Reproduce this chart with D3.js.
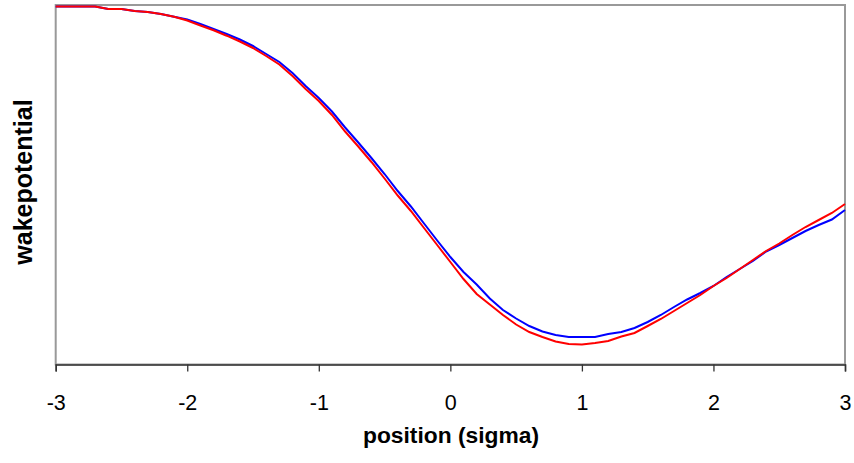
<!DOCTYPE html>
<html>
<head>
<meta charset="utf-8">
<script src="https://cdn.jsdelivr.net/npm/d3@7"></script>
<style>
  html, body { margin: 0; padding: 0; background: #fff; }
  svg { display: block; }
</style>
</head>
<body>
<svg id="chart" width="854" height="463"></svg>
<script>
// position in units of sigma
const positions = [
  -3.0,-2.9,-2.8,-2.7,-2.6,-2.5,-2.4,-2.3,-2.2,-2.1,
  -2.0,-1.9,-1.8,-1.7,-1.6,-1.5,-1.4,-1.3,-1.2,-1.1,
  -1.0,-0.9,-0.8,-0.7,-0.6,-0.5,-0.4,-0.3,-0.2,-0.1,
   0.0, 0.1, 0.2, 0.3, 0.4, 0.5, 0.6, 0.7, 0.8, 0.9,
   1.0, 1.1, 1.2, 1.3, 1.4, 1.5, 1.6, 1.7, 1.8, 1.9,
   2.0, 2.1, 2.2, 2.3, 2.4, 2.5, 2.6, 2.7, 2.8, 2.9, 3.0
];

// wake potential (arbitrary units), blue series
const wakeBlue = [
  -0.15,-0.15,-0.15,-0.15,-0.40,-0.40,-0.60,-0.70,-0.90,-1.17,
  -1.45,-1.90,-2.40,-2.90,-3.45,-4.10,-4.90,-5.70,-6.80,-8.10,
  -9.30,-10.65,-12.25,-13.75,-15.30,-16.90,-18.60,-20.15,-21.85,-23.55,
  -25.20,-26.70,-27.95,-29.35,-30.50,-31.35,-32.10,-32.65,-33.00,-33.20,
  -33.20,-33.20,-32.90,-32.70,-32.30,-31.70,-31.00,-30.20,-29.45,-28.80,
  -28.10,-27.20,-26.40,-25.60,-24.65,-24.00,-23.30,-22.60,-22.00,-21.45,-20.50
];

// wake potential (arbitrary units), red series
const wakeRed = [
  -0.15,-0.15,-0.15,-0.15,-0.40,-0.40,-0.60,-0.70,-0.90,-1.17,
  -1.55,-2.05,-2.53,-3.07,-3.65,-4.30,-5.10,-5.95,-7.10,-8.40,
  -9.60,-11.00,-12.65,-14.15,-15.70,-17.35,-19.05,-20.60,-22.30,-24.00,
  -25.70,-27.40,-28.90,-29.95,-31.00,-31.95,-32.70,-33.20,-33.65,-33.90,
  -33.95,-33.80,-33.60,-33.15,-32.80,-32.10,-31.40,-30.60,-29.80,-29.00,
  -28.10,-27.30,-26.40,-25.50,-24.60,-23.85,-23.00,-22.20,-21.50,-20.80,-19.90
];

const xTicks = [-3, -2, -1, 0, 1, 2, 3];
const xTickLabels = ["-3", "-2", "-1", "0", "1", "2", "3"];
const xTitle = "position (sigma)";
const yTitle = "wakepotential";

(function () {
  const svg = d3.select("#chart");
  const mLeft = 55.7, mRight = 845, mTop = 5, mBottom = 364.5;
  const font = "'Liberation Sans', Arial, sans-serif";

  const x = d3.scaleLinear().domain([-3, 3]).range([mLeft, mRight]);
  const y = d3.scaleLinear().domain([-35.95, 0]).range([mBottom, mTop]);

  // plot frame (gray)
  svg.append("rect")
    .attr("x", mLeft).attr("y", mTop)
    .attr("width", mRight - mLeft).attr("height", mBottom - mTop)
    .attr("fill", "none").attr("stroke", "#999").attr("stroke-width", 2);

  // x axis
  const xAxis = d3.axisBottom(x).tickValues(xTicks)
    .tickFormat((d, i) => xTickLabels[i]).tickSize(7).tickSizeOuter(7);
  const gx = svg.append("g").attr("transform", `translate(0,${mBottom})`).call(xAxis);
  gx.select(".domain").attr("stroke", "#333").attr("stroke-width", 1.5);
  gx.selectAll(".tick line").attr("stroke", "#333").attr("stroke-width", 1.3);
  gx.selectAll(".tick text")
    .attr("font-family", font)
    .attr("font-size", 21.5).attr("fill", "#000").attr("y", 30.5).attr("dy", "0.71em");

  const line = d3.line().x((d, i) => x(positions[i])).y(d => y(d)).curve(d3.curveLinear);

  svg.append("path").datum(wakeBlue)
    .attr("d", line).attr("fill", "none").attr("stroke", "#0000ff").attr("stroke-width", 2);
  svg.append("path").datum(wakeRed)
    .attr("d", line).attr("fill", "none").attr("stroke", "#ff0000").attr("stroke-width", 2);

  svg.append("text")
    .attr("x", 451).attr("y", 443)
    .attr("text-anchor", "middle")
    .attr("font-family", font)
    .attr("font-weight", "bold").attr("font-size", 22.8)
    .text(xTitle);

  svg.append("text")
    .attr("transform", `translate(31.5,182) rotate(-90)`)
    .attr("text-anchor", "middle")
    .attr("font-family", font)
    .attr("font-weight", "bold").attr("font-size", 25)
    .text(yTitle);
})();
</script>
</body>
</html>
